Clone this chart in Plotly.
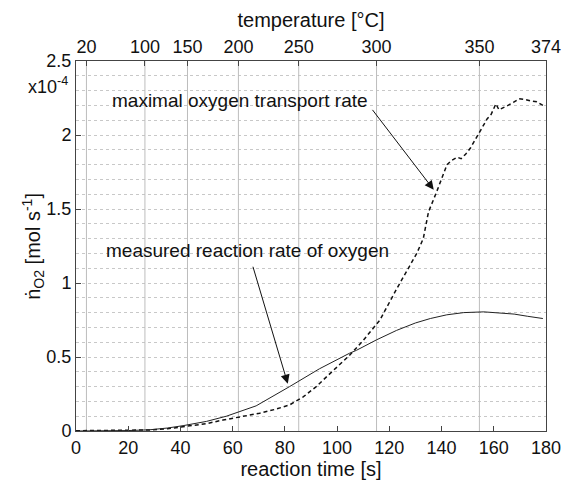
import plotly.graph_objects as go

# ---- data ----
time_measured = [0, 10, 20, 28, 35, 41, 50, 57.6, 69, 81.8, 93.2, 104.7, 107.4, 115,
                 122.8, 130, 135.7, 142, 148.5, 156.2, 162, 167.8, 173, 178.8]
rate_measured = [0, 0.001, 0.003, 0.008, 0.02, 0.036, 0.065, 0.10, 0.17, 0.30, 0.42,
                 0.525, 0.545, 0.615, 0.68, 0.73, 0.76, 0.785, 0.80, 0.805, 0.80,
                 0.79, 0.775, 0.76]

time_transport = [0, 10, 20, 28.3, 35, 41, 50, 56.3, 63, 70.3, 76, 81.8, 87, 92, 98,
                  104.7, 109.9, 116.4, 122.8, 126.5, 130.5, 133, 135, 138.2, 140,
                  142.1, 144, 146, 147.5, 149.2, 151, 153.6, 155.5, 157.5, 159, 160.8,
                  162, 163.3, 165.4, 167.5, 169.7, 172, 174.2, 176.5, 178.8]
rate_transport = [0.002, 0.002, 0.003, 0.007, 0.015, 0.03, 0.05, 0.074, 0.095, 0.12,
                  0.145, 0.176, 0.23, 0.30, 0.40, 0.51, 0.61, 0.75, 0.96, 1.08, 1.20,
                  1.30, 1.48, 1.62, 1.70, 1.80, 1.83, 1.85, 1.84, 1.87, 1.91, 1.99,
                  2.05, 2.11, 2.14, 2.21, 2.17, 2.18, 2.20, 2.22, 2.245, 2.24, 2.23,
                  2.225, 2.20]

time_ticks = [0, 20, 40, 60, 80, 100, 120, 140, 160, 180]
temp_labels = ["20", "100", "150", "200", "250", "300", "350", "374"]
temp_tick_times = [4.0, 26.4, 42.7, 62.2, 85.3, 115.1, 154.5, 180]
y_ticks = [0, 0.5, 1, 1.5, 2, 2.5]
y_tick_text = ["0", "0.5", "1", "1.5", "2", "2.5"]

FONT = "Liberation Sans, Arial, sans-serif"
AXC = "#444444"

fig = go.Figure()
fig.add_trace(go.Scatter(x=time_measured, y=rate_measured, mode="lines",
                         line=dict(color="#222222", width=1), xaxis="x2", yaxis="y",
                         showlegend=False, hoverinfo="skip"))
fig.add_trace(go.Scatter(x=time_transport, y=rate_transport, mode="lines",
                         line=dict(color="#111111", width=1.5, dash="4px,3px"),
                         showlegend=False, hoverinfo="skip"))

fig.update_layout(
    width=563, height=482,
    margin=dict(l=76, r=17, t=61, b=51),
    paper_bgcolor="white", plot_bgcolor="white",
    font=dict(family=FONT, size=18, color="#111111"),
    xaxis=dict(range=[0, 180], tickmode="array", tickvals=time_ticks,
               ticks="inside", ticklen=5, tickcolor=AXC, showline=True,
               linecolor=AXC, linewidth=1, showgrid=False, zeroline=False,
               title=dict(text="reaction time [s]", font=dict(size=20), standoff=3),
               automargin=False),
    xaxis2=dict(range=[0, 180], overlaying="x", side="top", tickmode="array",
                tickvals=temp_tick_times, ticktext=temp_labels,
                ticks="inside", ticklen=5, tickcolor=AXC, showline=True,
                linecolor=AXC, linewidth=1, showgrid=False, zeroline=False,
                title=dict(text="temperature [°C]", font=dict(size=20), standoff=3),
                automargin=False),
    yaxis=dict(range=[0, 2.5], tickmode="array", tickvals=y_ticks,
               ticktext=y_tick_text, ticks="inside", ticklen=5, tickcolor=AXC,
               showline=True, mirror=True, linecolor=AXC, linewidth=1,
               showgrid=True, gridcolor="#c8c8c8", griddash="dot", gridwidth=1,
               zeroline=False,
               minor=dict(tick0=0, dtick=0.1, showgrid=True, gridcolor="#c8c8c8",
                          griddash="dot", gridwidth=1, ticks=""),
               automargin=False),
)

# vertical grid lines at the temperature ticks
for t in temp_tick_times[:-1]:
    fig.add_shape(type="line", xref="x", yref="y", x0=t, x1=t, y0=0, y1=2.5,
                  line=dict(color="#bdbdbd", width=1), layer="between")

# y axis title placed as rotated text
fig.add_annotation(xref="paper", yref="paper", x=-0.092, y=0.5,
                   xanchor="center", yanchor="middle", textangle=-90,
                   text="ṅ<sub>O2</sub> [mol s<sup>-1</sup>]", showarrow=False,
                   font=dict(size=20))

fig.add_annotation(xref="paper", yref="paper", x=-0.013, y=0.935,
                   xanchor="right", yanchor="middle",
                   text="x10<sup>-4</sup>", showarrow=False, font=dict(size=18))

# text labels
fig.add_annotation(x=62.7, y=2.23, xref="x", yref="y",
                   text="maximal oxygen transport rate", showarrow=False,
                   font=dict(size=19))
fig.add_annotation(x=65.7, y=1.22, xref="x", yref="y",
                   text="measured reaction rate of oxygen", showarrow=False,
                   font=dict(size=19))
# arrows
fig.add_annotation(x=137, y=1.63, ax=113.1, ay=2.18, xref="x", yref="y",
                   axref="x", ayref="y", text="", showarrow=True,
                   arrowhead=2, arrowsize=1.8, arrowwidth=1, arrowcolor="#111111")
fig.add_annotation(x=81.1, y=0.32, ax=67.6, ay=1.12, xref="x", yref="y",
                   axref="x", ayref="y", text="", showarrow=True,
                   arrowhead=2, arrowsize=1.8, arrowwidth=1, arrowcolor="#111111")

fig.write_html("out.html")
